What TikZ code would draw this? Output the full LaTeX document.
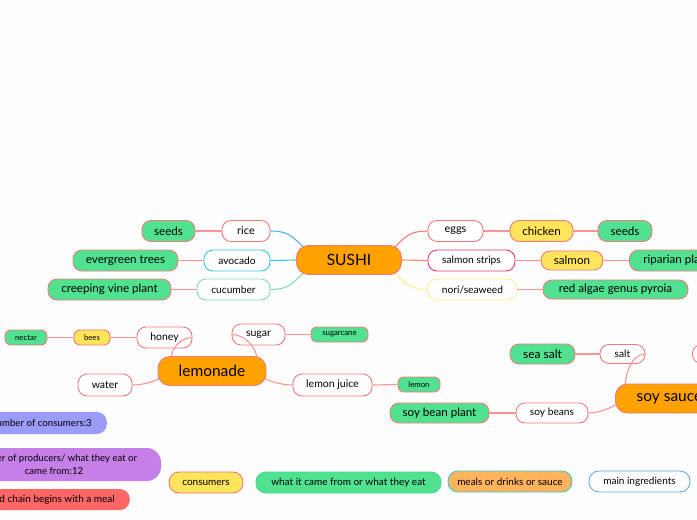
\documentclass[tikz,border=0pt]{standalone}
\usepackage{fontspec}
\setmainfont{Lato}
\usetikzlibrary{calc}
\pgfdeclarelayer{fg}
\pgfsetlayers{main,fg}
\definecolor{bord}{HTML}{F27A7A}
\definecolor{lnk}{HTML}{FF9494}
\definecolor{grn}{HTML}{50E290}
\definecolor{yel}{HTML}{FFE45C}
\definecolor{org}{HTML}{FFA200}
\definecolor{blu}{HTML}{5AAEEA}
\definecolor{cya}{HTML}{2DCDE0}
\definecolor{lgr}{HTML}{7EE0B5}
\definecolor{crim}{HTML}{E03A6E}
\definecolor{lyel}{HTML}{FFEE90}
\definecolor{bgc}{HTML}{FDFDFD}
\definecolor{purb}{HTML}{9B9BFA}
\definecolor{purp}{HTML}{C77FE8}
\definecolor{redl}{HTML}{FF6666}
\definecolor{orl}{HTML}{FFB35C}
\definecolor{teal}{HTML}{3CC8C8}
\definecolor{grb}{HTML}{45D88A}
\definecolor{slk}{HTML}{FF8A70}
\tikzset{
  box/.style={draw=bord, line width=0.9pt, rounded corners=9pt, inner sep=0pt, minimum height=21pt, font=\fontsize{10.2}{12}\selectfont},
  ing/.style={box, fill=white},
  src/.style={box, fill=grn, font=\fontsize{11.6}{13}\selectfont},
  cons/.style={box, fill=yel, font=\fontsize{11.6}{13}\selectfont},
  sm/.style={rounded corners=6pt, minimum height=15pt, font=\fontsize{7.8}{9}\selectfont},
  mainn/.style={box, fill=org, rounded corners=12pt, minimum height=29pt, font=\fontsize{15.5}{18}\selectfont},
  lk/.style={draw=lnk, line width=1.1pt},
  leg/.style={rounded corners=10pt, inner sep=0pt, font=\fontsize{10}{12.5}\selectfont},
}
\begin{document}
\begin{tikzpicture}[x=1pt,y=-1pt]
\fill[bgc] (0,0) rectangle (697,520);
\useasboundingbox (0,0) rectangle (697,520);
% main nodes on foreground layer
\begin{pgfonlayer}{fg}
\node[mainn, minimum width=105pt] (sushi) at (349,260) {SUSHI};
\node[mainn, minimum width=108pt] (lemonade) at (212,371) {lemonade};
\node[mainn, minimum width=108pt, anchor=west] (soysauce) at (615,398.5) {\hspace*{16pt}soy sauce\hspace*{16pt}};
\end{pgfonlayer}
% sushi ingredients
\node[ing, minimum width=48pt, font=\fontsize{11}{12}\selectfont] (rice) at (246,231) {rice};
\node[src, minimum width=53pt] (seedsL) at (168.5,231) {seeds};
\node[ing, draw=cya, minimum width=66pt] (avocado) at (237,260.5) {avocado};
\node[src, minimum width=105pt] (evergreen) at (125.5,260.5) {evergreen trees};
\node[ing, draw=lgr, minimum width=73pt] (cucumber) at (233.5,289.5) {cucumber};
\node[src, minimum width=123pt] (vine) at (109.5,289.5) {creeping vine plant};
\node[ing, minimum width=55pt, font=\fontsize{11}{12}\selectfont] (eggs) at (455.5,231) {eggs};
\node[cons, minimum width=63pt] (chicken) at (541.5,231) {chicken};
\node[src, minimum width=54pt] (seedsR) at (625,231) {seeds};
\node[ing, draw=crim, minimum width=87pt] (salmonstrips) at (471.5,260.5) {salmon strips};
\node[cons, minimum width=62pt, minimum height=19pt] (salmon) at (572,260.5) {salmon};
\node[src, minimum width=100pt, anchor=west] (riparian) at (629,260.5) {riparian plants};
\node[ing, draw=lyel, minimum width=89pt] (nori) at (472.5,289.5) {nori/seaweed};
\node[src, minimum width=145pt, minimum height=19pt] (redalgae) at (615.5,289.5) {red algae genus pyroia};
% lemonade ingredients
\node[ing, minimum width=55pt, font=\fontsize{10.5}{12}\selectfont] (honey) at (164.5,337.5) {honey};
\node[cons, sm, minimum width=36pt] (bees) at (92,337.5) {bees};
\node[src, sm, minimum width=42pt] (nectar) at (26,337.5) {nectar};
\node[ing, minimum width=53pt, font=\fontsize{10.5}{12}\selectfont] (sugar) at (258.5,334.5) {sugar};
\node[src, sm, minimum width=57pt] (sugarcane) at (339.5,334.5) {sugarcane};
\node[ing, minimum width=54pt, minimum height=22pt, font=\fontsize{10.5}{12}\selectfont] (water) at (105,385) {water};
\node[ing, minimum width=79pt, minimum height=22pt, font=\fontsize{10.5}{12}\selectfont] (lemonjuice) at (332.5,385) {lemon juice};
\node[src, sm, minimum width=42pt] (lemon) at (419,384.5) {lemon};
% soy sauce ingredients
\node[ing, minimum width=45pt, minimum height=19pt] (salt) at (622.5,354) {salt};
\node[src, minimum width=65pt, minimum height=20pt, font=\fontsize{12}{13}\selectfont] (seasalt) at (542.5,354) {sea salt};
\node[ing, minimum width=56pt, minimum height=19pt, anchor=west] (hidden) at (692,354) {};
\node[ing, minimum width=72pt, minimum height=20pt] (soybeans) at (552,413) {soy beans};
\node[src, minimum width=99pt, minimum height=20pt] (soybeanplant) at (439.5,413) {soy bean plant};
% connectors from main nodes
\draw[lk, draw=blu] (rice.east) .. controls +(22,0) and +(-15,-12) .. ($(sushi.west)+(13,-8)$);
\draw[lk, draw=cya] (avocado.east) -- (sushi.west);
\draw[lk, draw=lgr] (cucumber.east) .. controls +(22,0) and +(-15,12) .. ($(sushi.west)+(13,8)$);
\draw[lk, draw=bord] (eggs.west) .. controls +(-22,0) and +(15,-12) .. ($(sushi.east)+(-13,-8)$);
\draw[lk, draw=slk] (salmonstrips.west) -- (sushi.east);
\draw[lk, draw=lyel] (nori.west) .. controls +(-22,0) and +(15,12) .. ($(sushi.east)+(-13,8)$);
\draw[lk] (honey.east) .. controls +(-12,0) and +(0,-14) .. ($(lemonade.north west)+(13,6)$);
\draw[lk] (sugar.west) .. controls +(14,0) and +(0,-14) .. ($(lemonade.north east)+(-9,6)$);
\draw[lk] (water.east) .. controls +(14,0) and +(-8,5) .. ($(lemonade.west)+(8,4)$);
\draw[lk] (lemonjuice.west) .. controls +(-14,0) and +(8,5) .. ($(lemonade.east)+(-8,4)$);
\draw[lk] (salt.east) .. controls +(-14,0) and +(0,-16) .. ($(soysauce.north west)+(10,6)$);
\draw[lk] (soybeans.east) .. controls +(14,0) and +(-8,5) .. ($(soysauce.west)+(8,2)$);
% leaf connectors
\draw[lk] (rice.west) -- (seedsL.east);
\draw[lk] (avocado.west) -- (evergreen.east);
\draw[lk] (cucumber.west) -- (vine.east);
\draw[lk] (eggs.east) -- (chicken.west);
\draw[lk] (chicken.east) -- (seedsR.west);
\draw[lk] (salmonstrips.east) -- (salmon.west);
\draw[lk] (salmon.east) -- (riparian.west);
\draw[lk] (nori.east) -- (redalgae.west);
\draw[lk] (honey.west) -- (bees.east);
\draw[lk] (bees.west) -- (nectar.east);
\draw[lk] (sugar.east) -- (sugarcane.west);
\draw[lk] (lemonjuice.east) -- (lemon.west);
\draw[lk] (salt.west) -- (seasalt.east);
\draw[lk] (soybeans.west) -- (soybeanplant.east);
% left legend
\node[leg, fill=purb, minimum height=22pt, anchor=east, inner xsep=15pt, font=\fontsize{9.7}{12}\selectfont] (nconsumers) at (107,423) {Number of consumers:3};
\node[leg, fill=purp, minimum height=33pt, minimum width=214pt, align=center, rounded corners=14pt, font=\fontsize{9.6}{12.5}\selectfont] (nproducers) at (54,464.5) {Number of producers/ what they eat or\\came from:12};
\node[leg, fill=redl, minimum height=21pt, anchor=east, inner xsep=15pt] (chain) at (130,499.5) {The food chain begins with a meal};
% bottom legend
\node[leg, draw=bord, line width=0.9pt, fill=yel, minimum height=21pt, minimum width=74pt] (lconsumers) at (206,482.5) {consumers};
\node[leg, draw=grb, line width=0.9pt, fill=grn, minimum height=21pt, minimum width=185pt] (lsource) at (348.5,482.5) {what it came from or what they eat};
\node[leg, draw=teal, line width=0.9pt, fill=orl, minimum height=21pt, minimum width=124pt] (lmeals) at (510,481.5) {meals or drinks or sauce};
\node[leg, draw=blu, line width=0.9pt, fill=white, minimum height=21pt, minimum width=101pt] (lmain) at (639.5,481.5) {main ingredients};
\end{tikzpicture}
\end{document}
